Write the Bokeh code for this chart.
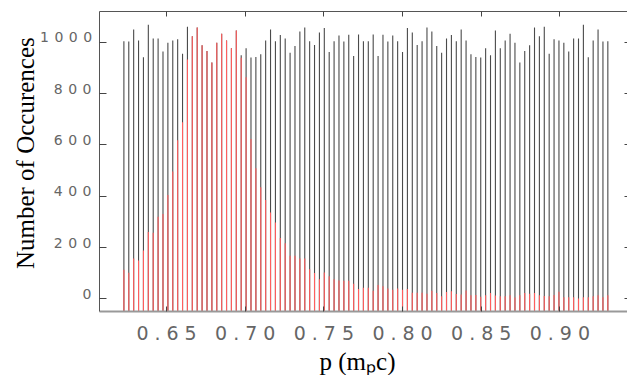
import numpy as np
from bokeh.plotting import figure
from bokeh.models import Range1d, LinearAxis, FixedTicker
from bokeh.layouts import row, column
from bokeh.core.properties import value
from bokeh.embed import file_html
from bokeh.resources import INLINE

# ---- data ----
# all generated events per momentum bin (100 bins)
all_counts = [1004, 1003, 1050, 1007, 942, 1068, 1015, 1015, 964, 998,
              1007, 1012, 955, 1061, 1023, 1058, 988, 966, 921, 998,
              1033, 1007, 977, 1046, 949, 977, 941, 943, 953, 1007,
              1050, 1004, 1028, 1015, 959, 985, 1042, 1058, 1004, 989,
              1038, 1056, 962, 1004, 1026, 1003, 1029, 946, 1030, 1004,
              1004, 1030, 946, 1029, 1003, 1026, 1004, 962, 1056, 1038,
              989, 1004, 1058, 1042, 985, 959, 1015, 1028, 1004, 1050,
              1007, 953, 943, 941, 977, 949, 1046, 977, 1007, 1033,
              998, 921, 966, 988, 1058, 1023, 1061, 955, 1012, 1007,
              998, 964, 1015, 1015, 1068, 942, 1007, 1050, 1003, 1004]
# selected events per bin
sel_counts = [113, 101, 157, 149, 188, 260, 257, 320, 330, 404,
              496, 618, 688, 933, 1023, 1058, 988, 966, 921, 998,
              1033, 1007, 977, 1046, 940, 864, 623, 509, 435, 385,
              336, 297, 237, 216, 167, 167, 157, 157, 115, 100,
              76, 102, 87, 76, 71, 70, 70, 58, 38, 43,
              43, 31, 53, 48, 40, 35, 40, 35, 38, 23,
              23, 23, 19, 31, 22, 9, 26, 29, 18, 16,
              32, 13, 14, 8, 13, 22, 12, 9, 9, 13,
              5, 13, 22, 19, 22, 13, 10, 9, 14, 27,
              6, 6, 6, 1, 6, 6, 9, 13, 6, 13]
first_bin, last_bin = 0.6229, 0.9305
x_ticks = [0.65, 0.70, 0.75, 0.80, 0.85, 0.90]
y_ticks = [0, 200, 400, 600, 800, 1000]
y_tick_labels = ["0", "200", "400", "600", "800", "1000"]
x_title = "p (mₚc)"
y_title = "Number of Occurences"

x_lo, x_hi = 0.6074, 0.9430
y_lo, y_hi = -50, 1120
label_lift = 19        # y tick labels sit slightly above their ticks (data units)
label_nudge = -0.0057  # compensates the letter spacing of the x tick labels

bins = np.linspace(first_bin, last_bin, len(all_counts))
base = [y_lo] * len(bins)

lab_font = "DejaVu Sans"
tick_col = "#666666"
serif = "Liberation Serif"
TOP, BOTTOM = 11, 30
ROW_H = 342

# ---------- main plot ----------
p = figure(width=529, height=ROW_H, output_backend="svg", toolbar_location=None,
           x_range=Range1d(x_lo, x_hi), y_range=Range1d(y_lo, y_hi),
           min_border_left=1, min_border_right=0, min_border_top=TOP,
           min_border_bottom=BOTTOM)
p.styles = {"letter-spacing": "6px"}
p.outline_line_color = None
p.grid.visible = False
p.background_fill_color = "white"
p.border_fill_color = "white"

p.segment(x0=bins, y0=base, x1=bins, y1=all_counts, line_color="#4a4a4a", line_width=1.1)
p.segment(x0=bins, y0=base, x1=bins, y1=sel_counts, line_color="#ff5e5e", line_width=1.1)

xa = p.xaxis[0]
xa.ticker = FixedTicker(ticks=x_ticks)
xa.major_tick_in = 5
xa.major_tick_out = 0
xa.minor_tick_line_color = None
xa.major_tick_line_color = "#444444"
xa.axis_line_color = "#999999"
xa.axis_line_width = 2
xa.major_label_text_font_size = "0px"
xa.major_label_text_color = None
xa.major_label_standoff = 0

shifted = [t + label_nudge for t in x_ticks]
xlabels = LinearAxis(ticker=FixedTicker(ticks=shifted),
                     major_label_overrides={s: f"{t:.2f}" for s, t in zip(shifted, x_ticks)},
                     axis_line_color=None, major_tick_line_color=None,
                     minor_tick_line_color=None,
                     major_label_text_font=lab_font, major_label_text_font_size="19px",
                     major_label_text_color=tick_col, major_label_standoff=8)
p.add_layout(xlabels, "below")

ya = p.yaxis[0]
ya.ticker = FixedTicker(ticks=y_ticks)
ya.major_tick_in = 7
ya.major_tick_out = 0
ya.minor_tick_line_color = None
ya.major_tick_line_color = "#444444"
ya.axis_line_color = "#555555"
ya.major_label_text_font_size = "0px"
ya.major_label_text_color = None
ya.major_label_standoff = 0

top = LinearAxis(ticker=FixedTicker(ticks=x_ticks), major_tick_in=5, major_tick_out=0,
                 minor_tick_line_color=None, axis_line_color="#555555",
                 major_tick_line_color="#444444",
                 major_label_text_font_size="0px", major_label_text_color=None,
                 major_label_standoff=0)
p.add_layout(top, "above")
right = LinearAxis(ticker=FixedTicker(ticks=y_ticks), major_tick_in=3, major_tick_out=0,
                   minor_tick_line_color=None, axis_line_color=None,
                   major_tick_line_color="#444444",
                   major_label_text_font_size="0px", major_label_text_color=None,
                   major_label_standoff=0)
p.add_layout(right, "right")

# ---------- y tick labels (own strip, spaced like the original font) ----------
YT_W, YL_W = 39, 59
ls_y = 5.5
digit_w = 0.6362 * 14
label_right = 91.0 - YT_W
yl = figure(width=YL_W, height=ROW_H, output_backend="svg", toolbar_location=None,
            x_range=Range1d(0, YL_W), y_range=p.y_range,
            min_border_left=0, min_border_right=0, min_border_top=TOP,
            min_border_bottom=BOTTOM, x_axis_location=None, y_axis_location=None)
yl.styles = {"letter-spacing": f"{ls_y}px"}
yl.outline_line_color = None
yl.grid.visible = False
yl_x = [max(0.5, label_right - (len(s) * digit_w + (len(s) - 1) * ls_y)) for s in y_tick_labels]
yl.text(x=yl_x, y=[t + label_lift for t in y_ticks], text=y_tick_labels,
        text_align="left", text_baseline="middle",
        text_font=value(lab_font), text_font_size="14px", text_color=tick_col)

# ---------- y title ----------
yt = figure(width=YT_W, height=ROW_H, output_backend="svg", toolbar_location=None,
            x_range=Range1d(0, YT_W), y_range=Range1d(0, ROW_H),
            min_border=0, x_axis_location=None, y_axis_location=None)
yt.outline_line_color = None
yt.grid.visible = False
yt.text(x=[25.0], y=[ROW_H - 161.5], text=[y_title], angle=np.pi / 2,
        text_align="center", text_baseline="middle",
        text_font=value(serif), text_font_size="25px", text_color="black")

# ---------- x title ----------
XT_H = 375 - ROW_H
xt = figure(width=627, height=XT_H, output_backend="svg", toolbar_location=None,
            x_range=Range1d(0, 627), y_range=Range1d(0, XT_H),
            min_border=0, x_axis_location=None, y_axis_location=None)
xt.outline_line_color = None
xt.grid.visible = False
xt.text(x=[357], y=[375 - 361], text=[x_title],
        text_align="center", text_baseline="middle",
        text_font=value(serif), text_font_size="25px", text_color="black")

layout = column(row(yt, yl, p), xt)
open("out.html", "w").write(file_html(layout, INLINE))
